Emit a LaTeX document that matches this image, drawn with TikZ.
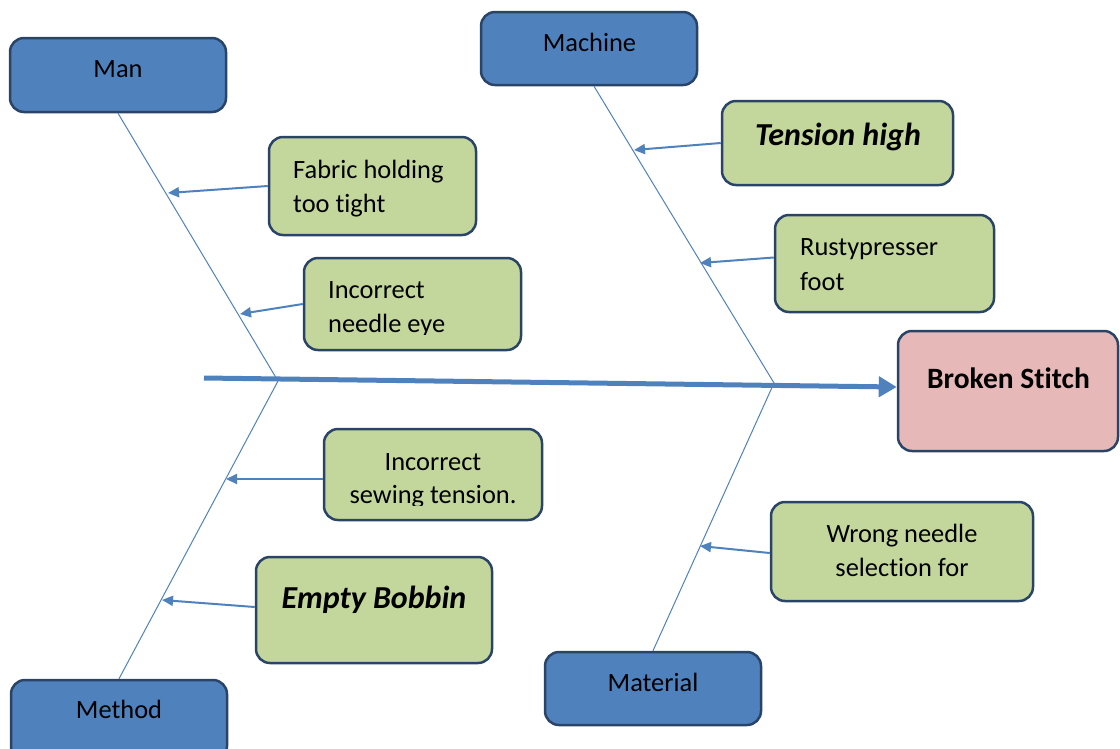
\documentclass[tikz,border=0pt]{standalone}
\usepackage{fontspec}
\setmainfont{Carlito}[Ligatures={NoCommon}]
\usetikzlibrary{arrows.meta,calc}
\definecolor{boxblue}{HTML}{4F81BD}
\definecolor{boxline}{HTML}{2A4468}
\definecolor{boxgreen}{HTML}{C3D69B}
\definecolor{boxpink}{HTML}{E6B9B8}
\definecolor{bonecol}{HTML}{4F81BD}
\begin{document}
\begin{tikzpicture}[x=1pt,y=-1pt,
  box/.style={draw=boxline, line width=2.5pt, rounded corners=14pt, inner sep=0pt},
  bluebox/.style={box, fill=boxblue},
  greenbox/.style={box, fill=boxgreen},
  pinkbox/.style={box, fill=boxpink},
  txt/.style={font=\fontsize{26.4}{34}\selectfont, inner sep=0pt, anchor=base},
  boldtxt/.style={txt, font=\fontsize{29.5}{34}\selectfont\bfseries},
  bitxt/.style={txt, font=\fontsize{32}{36}\selectfont\bfseries\itshape},
  bonestyle/.style={draw=bonecol, line width=1pt},
  causearrow/.style={draw=bonecol, line width=2pt, -{Triangle[length=11pt,width=10pt]}},
  spinearrow/.style={draw=bonecol, line width=5pt, -{Triangle[length=18pt,width=20pt]}}]
\clip (0,0) rectangle (1120,748);
% category boxes
\node[bluebox, minimum width=216pt, minimum height=74pt] (man) at (118,75) {};
\node[txt] (manT) at (118,77) {Man};
\node[bluebox, minimum width=216pt, minimum height=73pt] (machine) at (589,48.5) {};
\node[txt] (machineT) at (589.5,51) {Machine};
\node[bluebox, minimum width=216pt, minimum height=80pt] (method) at (119,720) {};
\node[txt] (methodT) at (119,718) {Method};
\node[bluebox, minimum width=216pt, minimum height=73pt] (material) at (653,688.5) {};
\node[txt] (materialT) at (653,691) {Material};
% effect
\node[pinkbox, minimum width=220pt, minimum height=120pt] (broken) at (1008,391) {};
\node[boldtxt] (brokenT) at (1008.5,388) {Broken Stitch};
% cause boxes
\node[greenbox, minimum width=207pt, minimum height=98pt] (fabric) at (372.5,186) {};
\node[txt, anchor=base west] (fabricT1) at (293,178) {Fabric holding};
\node[txt, anchor=base west] (fabricT2) at (293,212) {too tight};
\node[greenbox, minimum width=217pt, minimum height=92pt] (needle) at (412.5,304) {};
\node[txt, anchor=base west] (needleT1) at (328,298) {Incorrect};
\begin{scope}
\clip (300,300) rectangle (525,334);
\node[txt, anchor=base west] (needleT2) at (328,332) {needle eye};
\end{scope}
\node[greenbox, minimum width=231pt, minimum height=84pt] (tension) at (837.5,143) {};
\node[bitxt] (tensionT) at (838,145) {Tension high};
\node[greenbox, minimum width=219pt, minimum height=97pt] (rusty) at (884.5,263.5) {};
\node[txt, anchor=base west] (rustyT1) at (800,255) {Rustypresser};
\node[txt, anchor=base west] (rustyT2) at (800,290) {foot};
\node[greenbox, minimum width=218pt, minimum height=91pt] (sewing) at (433,474.5) {};
\node[txt] (sewingT1) at (433,470) {Incorrect};
\begin{scope}
\clip (320,480) rectangle (545,505.5);
\node[txt] (sewingT2) at (433,503.5) {sewing tension.};
\end{scope}
\node[greenbox, minimum width=236pt, minimum height=106pt] (bobbin) at (374,610) {};
\node[bitxt] (bobbinT) at (374,608) {Empty Bobbin};
\node[greenbox, minimum width=262pt, minimum height=99pt] (wrong) at (902,551.5) {};
\node[txt] (wrongT1) at (902,542) {Wrong needle};
\node[txt] (wrongT2) at (902,576) {selection for};
% bones
\coordinate (j1) at (278,381);
\coordinate (j2) at (774,383);
\coordinate (spinestart) at (204,378);
\draw[bonestyle] (man.south) -- (j1) -- (method.north);
\draw[bonestyle] ($(machine.south)+(5,0)$) -- (j2) -- (material.north);
\draw[spinearrow] (spinestart) -- ($(broken.west)+(0,-4)$);
% cause arrows
\coordinate (fa) at (168,193);
\coordinate (na) at (240,314);
\coordinate (ta) at (634,150);
\coordinate (ra) at (700,263);
\coordinate (sa) at (226,479);
\coordinate (ba) at (162,600);
\coordinate (wa) at (700,546);
\draw[causearrow] (fabric.west) -- (fa);
\draw[causearrow] (needle.west) -- (na);
\draw[causearrow] (tension.west) -- (ta);
\draw[causearrow] ($(rusty.west)+(0,-6)$) -- (ra);
\draw[causearrow] ($(sewing.west)+(0,4.5)$) -- (sa);
\draw[causearrow] ($(bobbin.west)+(0,-3)$) -- (ba);
\draw[causearrow] ($(wrong.west)+(0,1.5)$) -- (wa);
\end{tikzpicture}
\end{document}
